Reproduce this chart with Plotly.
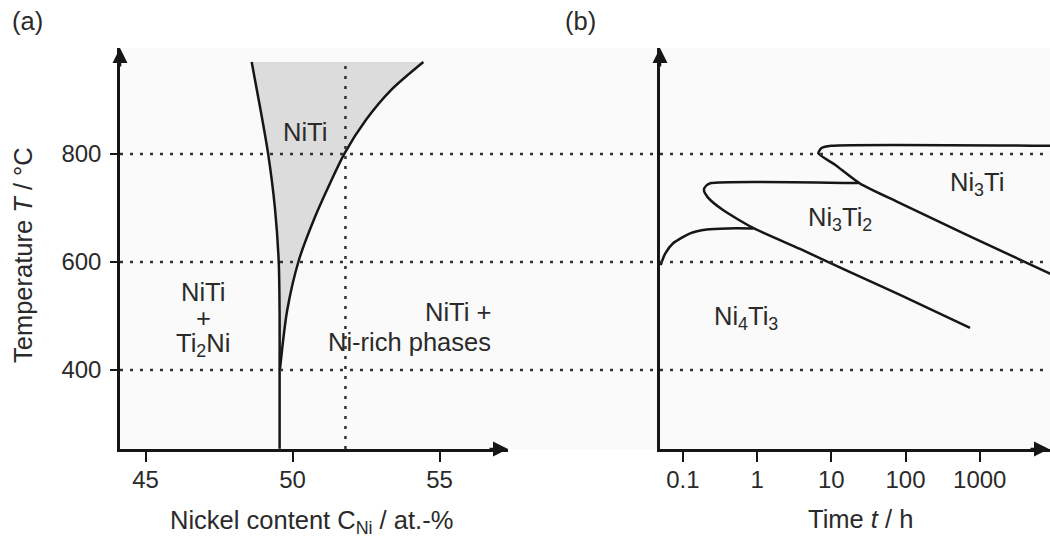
import plotly.graph_objects as go

# ---- (a) NiTi phase diagram: boundaries of the NiTi single-phase field ----
left_T = [254, 400, 500, 600, 700, 800, 885, 970]
left_ni = [49.56, 49.56, 49.56, 49.53, 49.40, 49.17, 48.9, 48.61]

right_T = [400, 511, 604, 684, 746, 800, 863, 918, 970]
right_ni = [49.57, 49.82, 50.22, 50.77, 51.28, 51.76, 52.5, 53.35, 54.45]

ni_ref = 51.8            # alloy composition marked by the vertical dotted line
temp_levels = [400, 600, 800]
ni_ticks = [45, 50, 55]

# ---- (b) TTT diagram: precipitation start curves ----
ni4ti3_t = [0.050, 0.0574, 0.0743, 0.125, 0.209, 0.40, 0.88]
ni4ti3_T = [594, 615, 635, 653, 660, 662, 662]

ni3ti2_t = [23.1, 0.24, 0.205, 0.192, 0.215, 0.347, 0.881, 3.79, 17.9, 84.3, 740]
ni3ti2_T = [746, 746, 741, 733, 720, 696, 663, 624, 581, 539, 478]

ni3ti_t = [9000, 10, 7.4, 6.68, 11.2, 24.4, 84.3, 668, 9000]
ni3ti_T = [815, 815, 811, 801, 780, 745, 709, 650, 578]

time_ticks = [0.1, 1, 10, 100, 1000]
time_labels = ["0.1", "1", "10", "100", "1000"]

W, H = 1050, 540
FONT = "Liberation Sans, Arial, sans-serif"
TXT = "#2a2a2a"
LINE = "#161616"
FS_TICK = 24
FS_TEXT = 25.5

def px_x(p):
    return p / W

def px_y(p):
    return 1 - p / H

ax_left = (120, 508)
ax_right = (660, 1050)
ax_top, ax_bottom = 48, 449
x_range = [44.13, 57.33]
y_range = [253.7, 996]
t_range = [-1.309, 3.947]

fig = go.Figure()

# shaded NiTi field: filled between the two boundary curves
fig.add_trace(go.Scatter(
    x=left_ni[1:], y=left_T[1:], mode="lines",
    line=dict(width=0, shape="spline", smoothing=0.8, color="rgba(0,0,0,0)"),
    hoverinfo="skip", xaxis="x", yaxis="y"))
fig.add_trace(go.Scatter(
    x=right_ni, y=right_T, mode="lines", fill="tonextx", fillcolor="#dcdcdc",
    line=dict(width=0, shape="spline", smoothing=0.8, color="rgba(0,0,0,0)"),
    hoverinfo="skip", xaxis="x", yaxis="y"))

for xs, ys in [(left_ni, left_T), (right_ni, right_T)]:
    fig.add_trace(go.Scatter(x=xs, y=ys, mode="lines",
                             line=dict(color=LINE, width=2.5, shape="spline", smoothing=0.8),
                             xaxis="x", yaxis="y"))

for ts, Ts in [(ni4ti3_t, ni4ti3_T), (ni3ti2_t, ni3ti2_T), (ni3ti_t, ni3ti_T)]:
    fig.add_trace(go.Scatter(x=ts, y=Ts, mode="lines",
                             line=dict(color=LINE, width=2.5, shape="spline", smoothing=0.6),
                             xaxis="x2", yaxis="y2"))

shapes = [
    dict(type="rect", xref="paper", yref="paper", layer="below",
         x0=px_x(ax_left[0]), x1=1, y0=px_y(ax_bottom), y1=px_y(ax_top),
         fillcolor="#fafafa", line=dict(width=0)),
]
dot = dict(color="#333333", width=2.5, dash="3px,7px")
for T in temp_levels:
    shapes.append(dict(type="line", xref="paper", yref="y",
                       x0=px_x(ax_left[0]), x1=1, y0=T, y1=T, line=dot))
shapes.append(dict(type="line", xref="x", yref="y", x0=ni_ref, x1=ni_ref,
                   y0=y_range[0], y1=970, line=dot))

ann = []
# axis arrowheads
def arrow(xp, yp, dx, dy):
    ann.append(dict(xref="paper", yref="paper", x=px_x(xp), y=px_y(yp),
                    axref="pixel", ayref="pixel", ax=dx, ay=dy, text="",
                    showarrow=True, arrowhead=2, arrowsize=1.2, arrowwidth=2.5,
                    arrowcolor=LINE))
arrow(ax_left[0], ax_top, 0, 20)
arrow(ax_left[1], ax_bottom, -20, 0)
arrow(ax_right[0], ax_top, 0, 20)
arrow(ax_right[1] - 1, ax_bottom, -20, 0)

def label(text, xp, yp, **kw):
    d = dict(xref="paper", yref="paper", x=px_x(xp), y=px_y(yp), text=text,
             showarrow=False, xanchor="center", yanchor="middle",
             font=dict(family=FONT, size=FS_TEXT, color=TXT))
    d.update(kw)
    ann.append(d)

label("(a)", 27, 21)
label("(b)", 580, 21)
label("Temperature <i>T</i> / °C", 23, 255, textangle=-90)
label("Nickel content C<sub>Ni</sub> / at.-%", 311, 522)
label("Time <i>t</i> / h", 860, 519)

# phase-field labels
label("NiTi", 305, 132)
label("NiTi", 203, 292)
label("+", 203, 318)
label("Ti<sub>2</sub>Ni", 203, 345)
label("NiTi +", 493, 312, xanchor="right")
label("Ni-rich phases", 493, 342, xanchor="right")
label("Ni<sub>3</sub>Ti", 977, 184)
label("Ni<sub>3</sub>Ti<sub>2</sub>", 840, 219)
label("Ni<sub>4</sub>Ti<sub>3</sub>", 746, 318)

axis_common = dict(showgrid=False, zeroline=False, showline=True,
                   linecolor=LINE, linewidth=2.5,
                   tickfont=dict(family=FONT, size=FS_TICK, color=TXT))

fig.update_layout(
    width=W, height=H, margin=dict(l=0, r=0, t=0, b=0),
    paper_bgcolor="white", plot_bgcolor="rgba(0,0,0,0)",
    showlegend=False, shapes=shapes, annotations=ann,
    xaxis=dict(domain=[px_x(ax_left[0]), px_x(ax_left[1])], range=x_range,
               tickvals=ni_ticks, ticks="outside", ticklen=10, tickwidth=2.2,
               tickcolor=LINE, ticklabelstandoff=-3, anchor="y", **axis_common),
    yaxis=dict(domain=[px_y(ax_bottom), px_y(ax_top)], range=y_range,
               tickvals=temp_levels, ticks="outside", ticklen=7, tickwidth=2.2,
               tickcolor=LINE, ticklabelstandoff=4, anchor="x", **axis_common),
    xaxis2=dict(domain=[px_x(ax_right[0]), 1], range=t_range, type="log",
                tickvals=time_ticks, ticktext=time_labels, ticks="outside",
                ticklen=10, tickwidth=2.2, tickcolor=LINE, ticklabelstandoff=-3,
                anchor="y2", **axis_common),
    yaxis2=dict(domain=[px_y(ax_bottom), px_y(ax_top)], range=y_range,
                showticklabels=False, ticks="", anchor="x2", **axis_common),
)

fig.write_html("out.html")
